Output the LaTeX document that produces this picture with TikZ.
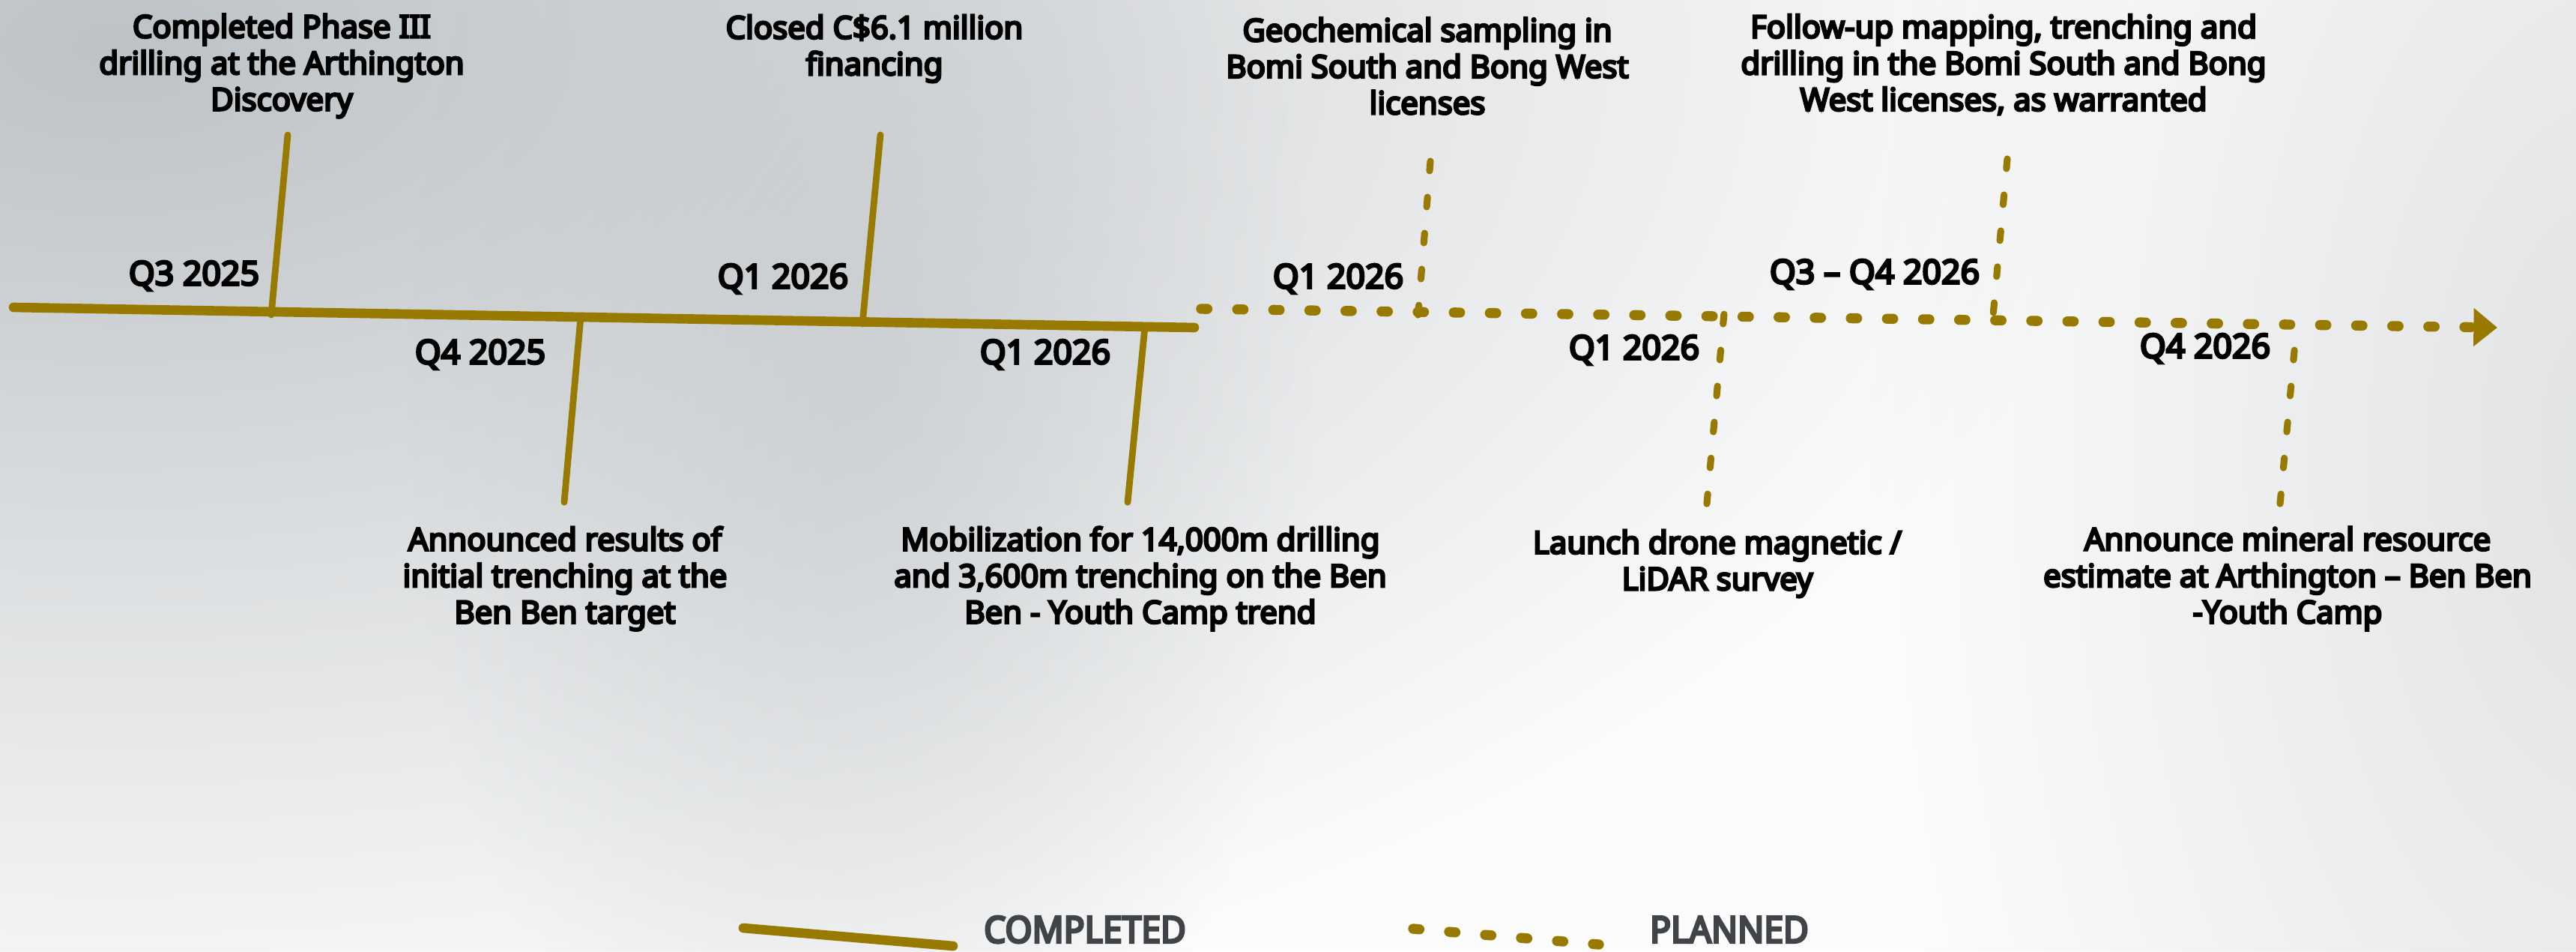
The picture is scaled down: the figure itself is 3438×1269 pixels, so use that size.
\documentclass[tikz,border=0pt]{standalone}
\usepackage{fontspec}
\setmainfont{Noto Sans}
\newfontfamily\heavyfont{Noto Sans}[FakeBold=6.5]
\newfontfamily\keyfont{Noto Sans}[FakeStretch=0.94, FakeBold=6]
\usetikzlibrary{arrows.meta, fadings}
\definecolor{gold}{RGB}{153,122,0}
\definecolor{ink}{RGB}{64,67,71}
\definecolor{haze}{RGB}{190,195,199}
\definecolor{paper}{RGB}{252,252,252}
\tikzfading[name=blob, inner color=transparent!0, outer color=transparent!100]
\begin{document}
\begin{tikzpicture}[x=0.01cm, y=-0.01cm,
	desc/.style = {align=center, inner sep=0pt, font=\heavyfont\fontsize{11.9}{13.8}\selectfont},
	qtr/.style = {inner sep=0pt, font=\heavyfont\fontsize{12.7}{15}\selectfont},
	key/.style = {inner sep=0pt, text=ink, font=\keyfont\fontsize{14}{16}\selectfont},
	axis/.style = {draw=gold, line width=3.6pt, line cap=round},
	done/.style = {draw=gold, line width=2.5pt, line cap=round},
	plan/.style = {draw=gold, line width=3.8pt, line cap=round, dash pattern=on 2.4pt off 11.3pt},
	tick/.style = {draw=gold, line width=2.6pt, line cap=round, dash pattern=on 3.7pt off 10pt}]
		\useasboundingbox (0,0) rectangle (3438,1269);
		\fill[paper] (0,0) rectangle (3438,1269);
		\begin{scope}
			\clip (0,0) rectangle (3438,1269);
			\fill[haze, path fading=blob] (150,60) ellipse (2700 and 1400);
			\fill[haze, path fading=blob, opacity=0.5] (1150,520) ellipse (600 and 1100);
			\fill[haze, path fading=blob, opacity=0.45] (3500,600) ellipse (1000 and 1800);
		\end{scope}

		\coordinate (s0) at (18,410);
		\coordinate (s1) at (1594,437);
		\coordinate (p0) at (1603,412);
		\coordinate (p1) at (3333,437);

		\coordinate (a1) at (384,180);
		\coordinate (b1) at (362,420);
		\coordinate (a2) at (775,423);
		\coordinate (b2) at (753,670);
		\coordinate (a3) at (1175,180);
		\coordinate (b3) at (1151,432);
		\coordinate (a4) at (1528,436);
		\coordinate (b4) at (1505,670);
		\coordinate (a5) at (1909,215);
		\coordinate (b5) at (1892,427);
		\coordinate (a6) at (2301,418);
		\coordinate (b6) at (2278,672);
		\coordinate (a7) at (2679,212);
		\coordinate (b7) at (2659,432);
		\coordinate (a8) at (3063,458);
		\coordinate (b8) at (3043,672);

		\node[desc] (d1) at (376,88) {Completed Phase III\\drilling at the Arthington\\Discovery};
		\node[desc] (d2) at (1167,65) {Closed C\$6.1 million\\financing};
		\node[desc] (d3) at (1905,88) {Geochemical sampling in\\Bomi South and Bong West\\licenses};
		\node[desc] (d4) at (2674,86) {Follow-up mapping, trenching and\\drilling in the Bomi South and Bong\\West licenses, as warranted};
		\node[desc] (d5) at (754,772) {Announced results of\\initial trenching at the\\Ben Ben target};
		\node[desc] (d6) at (1522,772) {Mobilization for 14,000m drilling\\and 3,600m trenching on the Ben\\Ben - Youth Camp trend};
		\node[desc] (d7) at (2292,752) {Launch drone magnetic /\\LiDAR survey};
		\node[desc] (d8) at (3053,772) {Announce mineral resource\\estimate at Arthington – Ben Ben\\-Youth Camp};

		\node[qtr] (q1) at (259,368) {Q3 2025};
		\node[qtr] (q2) at (641,473) {Q4 2025};
		\node[qtr] (q3) at (1045,372) {Q1 2026};
		\node[qtr] (q4) at (1395,473) {Q1 2026};
		\node[qtr] (q5) at (1786,372) {Q1 2026};
		\node[qtr] (q6) at (2181,467) {Q1 2026};
		\node[qtr] (q7) at (2502,366) {Q3 – Q4 2026};
		\node[qtr] (q8) at (2943,465) {Q4 2026};

		\draw[done] (a1) -- (b1);
		\draw[done] (a2) -- (b2);
		\draw[done] (a3) -- (b3);
		\draw[done] (a4) -- (b4);
		\draw[axis] (s0) -- (s1);
		\draw[tick] (a5) -- (b5);
		\draw[tick] (b6) -- (a6);
		\draw[tick] (a7) -- (b7);
		\draw[tick] (b8) -- (a8);
		\draw[plan, -{Triangle[length=9pt, width=14pt]}] (p0) -- (p1);

		\coordinate (l1) at (992,1238);
		\coordinate (l2) at (1272,1262);
		\coordinate (l3) at (1886,1239);
		\coordinate (l4) at (2134,1260);
		\node[key] (k1) at (1448,1240) {COMPLETED};
		\node[key] (k2) at (2308,1240) {PLANNED};
		\draw[axis] (l1) -- (l2);
		\draw[plan] (l3) -- (l4);
\end{tikzpicture}
\end{document}
